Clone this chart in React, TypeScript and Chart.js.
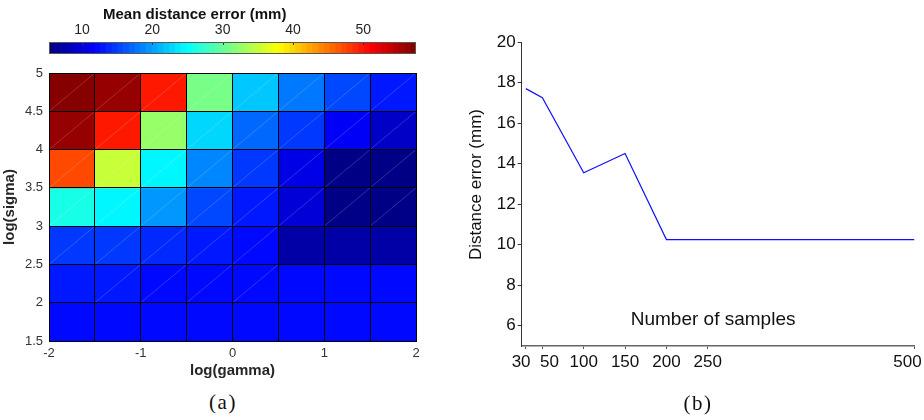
import React, { useEffect, useRef } from "react";
import { Chart, registerables } from "chart.js";
Chart.register(...registerables);

// ---------- Data: heatmap (a) ----------
const GAMMA_LEFT = [-2, -1.5, -1, -0.5, 0, 0.5, 1, 1.5];
const SIGMA_LOW = [1.5, 2, 2.5, 3, 3.5, 4, 4.5];
// Mean distance error per cell; one row per sigma band, columns follow GAMMA_LEFT
const ERR_S15 = [12.5, 12.5, 12.4, 12.4, 12.4, 12.3, 12.3, 12.3];
const ERR_S20 = [12.7, 12.7, 12.6, 12.5, 12.5, 12.2, 12.2, 12.2];
const ERR_S25 = [15.0, 14.4, 13.8, 13.1, 12.4, 7.7, 7.1, 7.4];
const ERR_S30 = [25.7, 24.5, 19.2, 15.1, 12.7, 9.5, 6.1, 6.0];
const ERR_S35 = [47.7, 34.7, 24.1, 18.4, 14.3, 11.0, 5.9, 5.5];
const ERR_S40 = [56.3, 49.7, 32.8, 23.1, 17.1, 14.7, 11.8, 9.2];
const ERR_S45 = [57.3, 56.5, 49.9, 31.4, 22.3, 17.6, 15.1, 12.7];
const ERR_ROWS = [ERR_S15, ERR_S20, ERR_S25, ERR_S30, ERR_S35, ERR_S40, ERR_S45];
const CBAR_MIN = 5.3;
const CBAR_MAX = 57.5;
const CBAR_TICKS = [10, 20, 30, 40, 50];
const CBAR_LEVELS = 64;
const X_TICK_STEP = 0.5;

// ---------- Data: line chart (b) ----------
const SAMPLES = [30, 50, 100, 150, 200, 250, 500];
const DIST_ERR = [17.7, 17.25, 13.55, 14.5, 10.25, 10.25, 10.25];
const SAMPLE_TICKS = [30, 50, 100, 150, 200, 250, 500];
// label strings, padded so crowded / edge labels sit like the original
const SAMPLE_TICK_LABELS = ["30  ", "   50", "100", "150", "200", "250", "500   "];
const ERR_TICKS = [6, 8, 10, 12, 14, 16, 18, 20];

const FONT = "'Liberation Sans', Arial, Helvetica, sans-serif";

function jet(t: number): string {
  const c = (v: number) => Math.round(255 * Math.max(0, Math.min(1, v)));
  const r = Math.min(4 * t - 1.5, -4 * t + 4.5);
  const g = Math.min(4 * t - 0.5, -4 * t + 3.5);
  const b = Math.min(4 * t + 0.5, -4 * t + 2.5);
  return `rgb(${c(r)},${c(g)},${c(b)})`;
}
function colorFor(v: number): string {
  let idx = Math.floor(((v - CBAR_MIN) / (CBAR_MAX - CBAR_MIN)) * CBAR_LEVELS);
  idx = Math.max(0, Math.min(CBAR_LEVELS - 1, idx));
  return jet((idx + 0.5) / CBAR_LEVELS);
}

function useChart(make: (c: HTMLCanvasElement) => Chart) {
  const ref = useRef<HTMLCanvasElement | null>(null);
  useEffect(() => {
    if (!ref.current) return;
    const ch = make(ref.current);
    return () => ch.destroy();
  }, []);
  return ref;
}

function Heatmap() {
  const ref = useChart((canvas) => {
    const pts: any[] = [];
    const cols: string[] = [];
    SIGMA_LOW.forEach((s, r) => {
      GAMMA_LEFT.forEach((g, c) => {
        const v = ERR_ROWS[r][c];
        pts.push({ x: g + X_TICK_STEP / 2, y: [s, s + 0.5] });
        cols.push(colorFor(v));
      });
    });
    const diag = {
      id: "diag",
      afterDatasetsDraw(chart: any) {
        const ctx = chart.ctx;
        const meta = chart.getDatasetMeta(0);
        ctx.save();
        ctx.strokeStyle = "rgba(255,255,255,0.3)";
        ctx.lineWidth = 0.6;
        meta.data.forEach((el: any, i: number) => {
          const r = Math.floor(i / GAMMA_LEFT.length);
          const c = i % GAMMA_LEFT.length;
          if (r === 0) return;
          if (r === 1 && (c === 0 || c > 4)) return;
          if (r === 2 && c > 4) return;
          const l = el.x - el.width / 2;
          const rr = el.x + el.width / 2;
          ctx.beginPath();
          ctx.moveTo(l, el.base);
          ctx.lineTo(rr, el.y);
          ctx.stroke();
        });
        ctx.restore();
      },
    };
    return new Chart(canvas, {
      type: "bar",
      data: {
        datasets: [
          {
            data: pts,
            backgroundColor: cols,
            borderWidth: 0,
            barPercentage: 1,
            categoryPercentage: 1,
          } as any,
        ],
      },
      options: {
        animation: false,
        responsive: false,
        layout: { padding: { left: 0, top: 73, right: 14, bottom: 0 } },
        plugins: { legend: { display: false }, tooltip: { enabled: false } },
        scales: {
          x: {
            type: "linear",
            min: -2,
            max: 2,
            offset: false,
            grid: { offset: false, color: "#000", lineWidth: 1, drawTicks: false, z: 1 },
            border: { display: true, color: "#000", width: 1, z: 1 },
            ticks: {
              stepSize: X_TICK_STEP,
              autoSkip: false,
              maxRotation: 0,
              padding: 5,
              color: "#333",
              font: { family: FONT, size: 13 },
              callback: (v: any) => (Number.isInteger(v) ? String(v) : ""),
            },
            title: {
              display: true,
              text: "log(gamma)",
              color: "#262626",
              font: { family: FONT, size: 15, weight: "bold" },
              padding: { top: 0, bottom: 10 },
            },
            afterFit: (s: any) => {
              s.height = 49;
              s.paddingLeft = 0;
              s.paddingRight = 0;
            },
          } as any,
          y: {
            type: "linear",
            min: 1.5,
            max: 5,
            beginAtZero: false,
            grid: { color: "#000", lineWidth: 1, drawTicks: false, z: 1 },
            border: { display: true, color: "#000", width: 1, z: 1 },
            ticks: {
              stepSize: 0.5,
              padding: 6,
              color: "#333",
              font: { family: FONT, size: 13 },
              callback: (v: any) => String(v),
            },
            title: {
              display: true,
              text: "log(sigma)",
              color: "#262626",
              font: { family: FONT, size: 15, weight: "bold" },
              padding: { top: 1, bottom: 0 },
            },
            afterFit: (s: any) => {
              s.width = 49;
              s.paddingTop = 0;
              s.paddingBottom = 0;
            },
          } as any,
        },
      },
      plugins: [diag],
    });
  });
  return (
    <canvas
      ref={ref}
      width={430}
      height={390}
      style={{ position: "absolute", left: 0, top: 0, width: 430, height: 390 }}
    />
  );
}

function ColorBar() {
  const ref = useChart((canvas) => {
    const segs: any[] = [];
    const cols: string[] = [];
    const step = (CBAR_MAX - CBAR_MIN) / CBAR_LEVELS;
    for (let i = 0; i < CBAR_LEVELS; i++) {
      segs.push({ x: [CBAR_MIN + i * step, CBAR_MIN + (i + 1) * step], y: "c" });
      cols.push(jet((i + 0.5) / CBAR_LEVELS));
    }
    const frame = {
      id: "frame",
      afterDraw(chart: any) {
        const { ctx, chartArea: a } = chart;
        const xs = chart.scales.x;
        ctx.save();
        ctx.strokeStyle = "#333";
        ctx.lineWidth = 1;
        CBAR_TICKS.forEach((t) => {
          const px = Math.round(xs.getPixelForValue(t)) + 0.5;
          ctx.beginPath();
          ctx.moveTo(px, a.top);
          ctx.lineTo(px, a.top + 3);
          ctx.stroke();
        });
        ctx.strokeStyle = "#555";
        ctx.strokeRect(a.left + 0.5, a.top + 0.5, a.right - a.left - 1, a.bottom - a.top - 1);
        ctx.restore();
      },
    };
    return new Chart(canvas, {
      type: "bar",
      data: {
        labels: ["c"],
        datasets: [
          {
            data: segs,
            backgroundColor: cols,
            borderWidth: 0,
            barPercentage: 1,
            categoryPercentage: 1,
            grouped: false,
          } as any,
        ],
      },
      options: {
        indexAxis: "y",
        animation: false,
        responsive: false,
        layout: { padding: { left: 49, top: 0, right: 14, bottom: 6 } },
        plugins: { legend: { display: false }, tooltip: { enabled: false } },
        scales: {
          x: {
            type: "linear",
            position: "top",
            min: CBAR_MIN,
            max: CBAR_MAX,
            grid: { display: false, drawTicks: false },
            border: { display: false },
            afterBuildTicks: (s: any) => {
              s.ticks = CBAR_TICKS.map((v) => ({ value: v }));
            },
            ticks: {
              autoSkip: false,
              maxRotation: 0,
              padding: 3,
              color: "#262626",
              font: { family: FONT, size: 14 },
            },
            afterFit: (s: any) => {
              s.height = 42;
              s.paddingLeft = 0;
              s.paddingRight = 0;
            },
          } as any,
          y: { type: "category", display: false },
        },
      },
      plugins: [frame],
    });
  });
  return (
    <canvas
      ref={ref}
      width={430}
      height={60}
      style={{ position: "absolute", left: 0, top: 0, width: 430, height: 60 }}
    />
  );
}

function LinePlot() {
  const ref = useChart((canvas) => {
    const inner = {
      id: "innerTitle",
      afterDraw(chart: any) {
        const { ctx, chartArea: a } = chart;
        ctx.save();
        ctx.font = `19px ${FONT}`;
        ctx.fillStyle = "#111";
        ctx.textAlign = "center";
        ctx.textBaseline = "middle";
        ctx.fillText("Number of samples", (a.left + a.right) / 2 - 5, a.bottom - 26);
        ctx.restore();
      },
    };
    return new Chart(canvas, {
      type: "line",
      data: {
        datasets: [
          {
            data: SAMPLES.map((s, i) => ({ x: s, y: DIST_ERR[i] })),
            borderColor: "#1010ff",
            borderWidth: 1.2,
            pointRadius: 0,
            tension: 0,
            fill: false,
          },
        ],
      },
      options: {
        animation: false,
        responsive: false,
        layout: { padding: { left: 0, top: 42, right: 9.5, bottom: 0 } },
        plugins: { legend: { display: false }, tooltip: { enabled: false } },
        scales: {
          x: {
            type: "linear",
            min: 25,
            max: 500,
            grid: { display: true, drawOnChartArea: false, drawTicks: true, tickLength: 3, color: "#555" },
            border: { display: true, color: "#666", width: 1.5 },
            afterBuildTicks: (s: any) => {
              s.ticks = SAMPLE_TICKS.map((v) => ({ value: v }));
            },
            ticks: {
              autoSkip: false,
              maxRotation: 0,
              padding: 3,
              color: "#111",
              font: { family: FONT, size: 17 },
              callback: (v: any) => {
                const i = SAMPLE_TICKS.indexOf(v);
                return i >= 0 ? SAMPLE_TICK_LABELS[i] : String(v);
              },
            },
            afterFit: (s: any) => {
              s.height = 74;
              s.paddingLeft = 0;
              s.paddingRight = 0;
            },
          } as any,
          y: {
            type: "linear",
            min: 5,
            max: 20,
            grid: { display: true, drawOnChartArea: false, drawTicks: true, tickLength: 4, color: "#333" },
            border: { display: true, color: "#333", width: 1 },
            afterBuildTicks: (s: any) => {
              s.ticks = ERR_TICKS.map((v) => ({ value: v }));
            },
            ticks: {
              autoSkip: false,
              padding: 2,
              color: "#111",
              font: { family: FONT, size: 17 },
            },
            title: {
              display: true,
              text: "    Distance error (mm)",
              color: "#111",
              font: { family: FONT, size: 17 },
              padding: { top: 36, bottom: 0 },
            },
            afterFit: (s: any) => {
              s.width = 91.7;
              s.paddingTop = 0;
              s.paddingBottom = 0;
            },
          } as any,
        },
      },
      plugins: [inner],
    });
  });
  return (
    <canvas
      ref={ref}
      width={494}
      height={420}
      style={{ position: "absolute", left: 430, top: 0, width: 494, height: 420 }}
    />
  );
}

export default function App() {
  const cap: React.CSSProperties = {
    position: "absolute",
    fontFamily: "'Liberation Serif', 'DejaVu Serif', serif",
    fontSize: 21,
    lineHeight: "24px",
    letterSpacing: "1.5px",
    width: 60,
    textAlign: "center",
    color: "#111",
  };
  return (
    <div
      style={{
        position: "fixed",
        left: 0,
        top: 0,
        width: 924,
        height: 420,
        background: "#fff",
        overflow: "hidden",
      }}
    >
      <Heatmap />
      <ColorBar />
      <div
        style={{
          position: "absolute",
          left: 103,
          top: 5,
          fontFamily: FONT,
          fontWeight: "bold",
          fontSize: 15,
          lineHeight: "18px",
          color: "#111",
          whiteSpace: "nowrap",
        }}
      >
        Mean distance error (mm)
      </div>
      <LinePlot />
      <div style={{ ...cap, left: 193, top: 390 }}>(a)</div>
      <div style={{ ...cap, left: 668, top: 391 }}>(b)</div>
    </div>
  );
}
